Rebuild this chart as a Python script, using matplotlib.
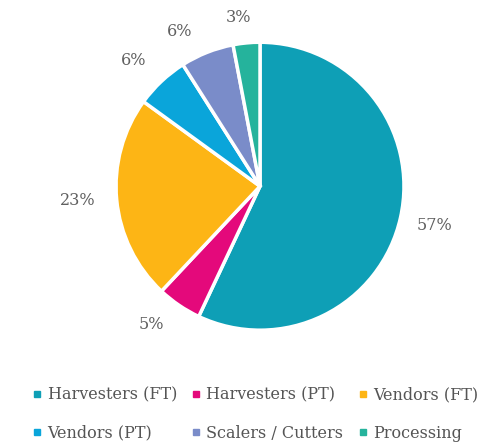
import matplotlib
matplotlib.use("Agg")
import numpy as np
import matplotlib.pyplot as plt
from matplotlib.lines import Line2D

categories = ["Harvesters (FT)", "Harvesters (PT)", "Vendors (FT)",
              "Vendors (PT)", "Scalers / Cutters", "Processing"]
values = [57, 5, 23, 6, 6, 3]
colors = ["#0E9FB6", "#E4097B", "#FDB515", "#0AA5DA", "#7A8CC9", "#25B39C"]

# label layout (radius factor and angular nudge in degrees)
label_r = [1.24, 1.22, 1.27, 1.24, 1.21, 1.18]
label_shift = [0, -4, -1, 2, 6, 2]

plt.rcParams['font.family'] = ['DejaVu Serif']

fig = plt.figure(figsize=(4.86, 4.45), dpi=100)
ax = fig.add_axes([0.2387, 0.258, 0.5926, 0.647])
wedges, _ = ax.pie(values, colors=colors, startangle=90, counterclock=False,
                   wedgeprops=dict(edgecolor="white", linewidth=2.5))
for w, v, r, s in zip(wedges, values, label_r, label_shift):
    ang = np.deg2rad((w.theta1 + w.theta2) / 2 + s)
    ax.text(r * np.cos(ang), r * np.sin(ang), f"{v}%", ha="center", va="center",
            color="#606060", fontsize=11.5)
ax.set_xlim(-1, 1)
ax.set_ylim(-1, 1)
ax.set_aspect("equal")

handles = [Line2D([0], [0], marker="s", linestyle="none", markersize=5,
                  markerfacecolor=c, markeredgecolor=c) for c in colors]
order = [0, 3, 1, 4, 2, 5]
fig.legend([handles[i] for i in order], [categories[i] for i in order],
           loc="lower center", bbox_to_anchor=(0.526, -0.025), ncol=3, frameon=False,
           fontsize=11.5, labelcolor="#555555", handlelength=0.5, handletextpad=0.4,
           columnspacing=0.95, labelspacing=1.35)

fig.savefig("out.png", dpi=100)
